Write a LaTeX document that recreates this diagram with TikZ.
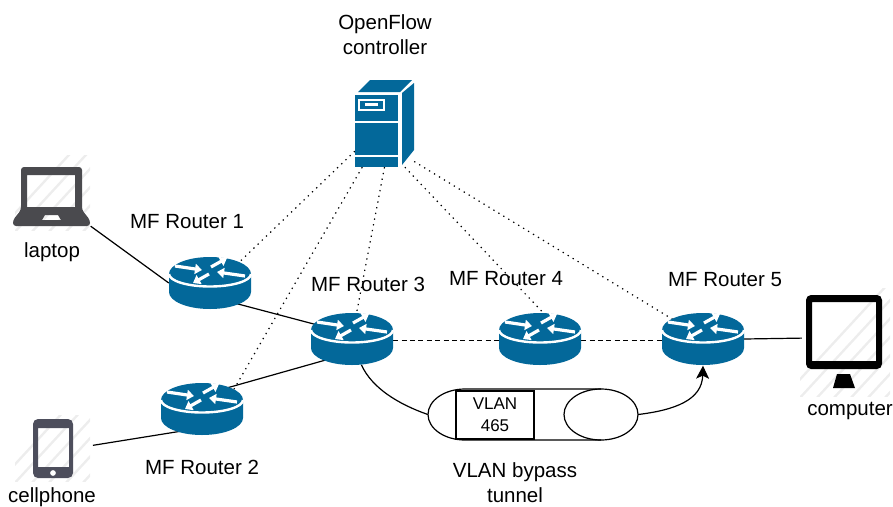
\documentclass[tikz,border=0pt]{standalone}
\usepackage{fontspec}
\setmainfont{Liberation Sans}
\usetikzlibrary{arrows.meta,shapes.geometric}
\definecolor{ciscoblue}{HTML}{03689A}
\definecolor{devgray}{HTML}{4A4A4E}
\definecolor{phonegray}{HTML}{4D4E5C}
\definecolor{hatchgray}{HTML}{EDEDED}
\tikzset{
  x=1pt,y=-1pt,
  lbl/.style={inner sep=0pt,align=center,font=\fontsize{20.5}{25}\selectfont},
  smalllbl/.style={inner sep=0pt,align=center,font=\fontsize{17}{22}\selectfont},
  routerbox/.style={ellipse,inner sep=0pt,minimum width=82pt,minimum height=53pt},
  devbox/.style={rectangle,inner sep=0pt},
  link/.style={draw=black,line width=1.2pt},
  dashlink/.style={draw=black,line width=1pt,dash pattern=on 5pt off 3.4pt},
  ctrl/.style={draw=black,line width=1.2pt,dash pattern=on 1.3pt off 4.5pt},
  tunnelline/.style={draw=black,line width=1.2pt},
  hatchline/.style={draw=hatchgray,line width=2.4pt},
  routerarrow/.style={draw=white,line width=3.2pt,-{Triangle[length=7pt,width=10pt]}},
}
\newcommand{\hatchzone}[4]{%
  \begin{scope}
    \clip (#1,#2) rectangle (#3,#4);
    \foreach \k in {0,...,14}{
      \draw[hatchline] (#1-20+\k*17,#4+5) -- ++(120,-130);
    }
  \end{scope}}
\newcommand{\routerart}[1]{%
  \begin{scope}[shift={(#1)}]
    \fill[ciscoblue] (-41,-9) -- (-41,9) arc[start angle=180,end angle=0,x radius=41,y radius=17]
       -- (41,-9) arc[start angle=0,end angle=-180,x radius=41,y radius=17] -- cycle;
    \draw[white,line width=2.4pt] (-41,-9) arc[start angle=180,end angle=0,x radius=41,y radius=12.5];
    \draw[routerarrow] (-35,-17) -- (-8,-13);
    \draw[routerarrow] (35,-7) -- (7,-11);
    \draw[routerarrow] (1,-16) -- (17,-25);
    \draw[routerarrow] (-1,-9) -- (-17,0);
  \end{scope}}
\begin{document}
\begin{tikzpicture}
\useasboundingbox (0,0) rectangle (893,506);
% placement nodes
\node[routerbox] (r1) at (210,283) {};
\node[routerbox] (r2) at (202,409) {};
\node[routerbox] (r3) at (352,339) {};
\node[routerbox] (r4) at (540,339) {};
\node[routerbox] (r5) at (703,339) {};
\node[devbox,minimum width=59pt,minimum height=87pt] (srv) at (384.5,123.5) {};
\node[devbox,minimum width=78pt,minimum height=60pt] (laptop) at (51.5,196) {};
\node[devbox,minimum width=40pt,minimum height=59pt] (phone) at (53,448.5) {};
\node[devbox,minimum width=76pt,minimum height=74pt] (comp) at (844,332) {};
\node[devbox,minimum width=210pt,minimum height=51pt] (tun) at (533,414.5) {};
% hatching
\hatchzone{15}{155}{90}{230}
\hatchzone{15}{415}{90}{481}
\hatchzone{800}{288}{890}{396}
% connectors
\draw[link] (laptop.south east) -- (r1.west);
\draw[link,shorten <=20pt] (phone.east) -- (r2.-135);
\draw[link] (r1.-38) -- (r3.158);
\draw[link] (r2.40) -- (r3.-141);
\draw[dashlink] (r3.-2) -- (r4.182);
\draw[dashlink] (r4.-2) -- (r5.182);
\draw[link,shorten >=4pt] (r5.east) -- (comp.-171);
\draw[ctrl] (srv.223) -- (r1.35);
\draw[ctrl] (srv.243) -- (r2.30);
\draw[ctrl] (srv.270) -- (r3.80);
\draw[ctrl] (srv.-65) -- (r4.84);
\draw[ctrl] (srv.-52) -- (r5.147);
% routers
\routerart{r1}\routerart{r2}\routerart{r3}\routerart{r4}\routerart{r5}
% server
\fill[ciscoblue] (358,92) -- (370,80) -- (412,80) -- (400,92) -- cycle;
\fill[ciscoblue] (402,93) -- (414,83) -- (414,150) -- (402,165) -- cycle;
\fill[ciscoblue] (355,95) rectangle (398,121);
\fill[ciscoblue] (355,123) rectangle (398,155);
\fill[ciscoblue] (355,157) rectangle (398,167);
\fill[white] (358,99) rectangle (385,111);
\fill[ciscoblue] (360,101) rectangle (383,109);
\fill[white] (365,103) rectangle (378,106);
% laptop
\fill[devgray,even odd rule,rounded corners=3pt]
  (21,167) -- (82,167) -- (82,210) -- (90,220) -- (90,226) -- (13,226) -- (13,220) -- (21,210) -- cycle
  [sharp corners] (27,175) -- (75,175) -- (75,207) -- (27,207) -- cycle
  (42,220) -- (61,220) -- (58,215) -- (45,215) -- cycle;
% phone
\fill[phonegray,even odd rule]
  [rounded corners=5pt] (33,419) rectangle (73,478)
  [sharp corners] (38,428) rectangle (69,467)
  (53,473) circle[radius=3];
% computer
\fill[black,even odd rule]
  [rounded corners=5pt] (806,295) rectangle (882,369)
  [sharp corners] (812,302) rectangle (876,361);
\fill[black] (837,374) -- (850,374) -- (855,388) -- (833,388) -- cycle;
% tunnel
\draw[tunnelline] (465,389) -- (601,389) arc[start angle=-90,end angle=90,x radius=37,y radius=25.5]
   -- (465,440) arc[start angle=90,end angle=270,x radius=37,y radius=25.5];
\draw[tunnelline] (601,389) arc[start angle=-90,end angle=-270,x radius=37,y radius=25.5];
\node[draw=black,line width=1.2pt,fill=white,minimum width=78pt,minimum height=48pt,inner sep=0pt,smalllbl] (vlan) at (495,415) {VLAN\\465};
\draw[link] (r3.-70) .. controls (372,388) and (398,404) .. (tun.west);
\draw[link,-{Stealth[length=13pt,width=13pt,inset=3pt]}] (tun.east) .. controls (675,410) and (702,400) .. (r5.south);
% labels
\node[lbl] (tc) at (385,35) {OpenFlow\\controller};
\node[lbl] (t1) at (187,222) {MF Router 1};
\node[lbl] (t2) at (202,467) {MF Router 2};
\node[lbl] (t3) at (368,284) {MF Router 3};
\node[lbl] (t4) at (506,279) {MF Router 4};
\node[lbl] (t5) at (725,280) {MF Router 5};
\node[lbl] (tl) at (52,252) {laptop};
\node[lbl] (tp) at (52,497) {cellphone};
\node[lbl] (tm) at (850,411) {computer};
\node[lbl] (tb) at (515,483) {VLAN bypass\\tunnel};
\end{tikzpicture}
\end{document}
